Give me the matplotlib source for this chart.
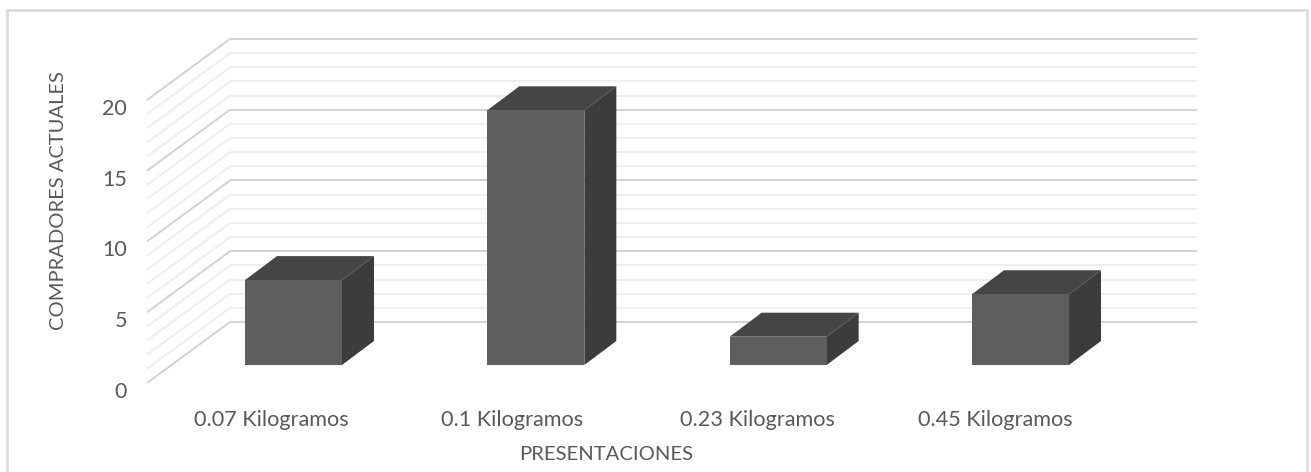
import matplotlib
matplotlib.use('Agg')
import matplotlib.pyplot as plt
from matplotlib.patches import Polygon, Rectangle

categorias = ['0.07 Kilogramos', '0.1 Kilogramos', '0.23 Kilogramos', '0.45 Kilogramos']
compradores = [6, 18, 2, 5]
ticks_y = [0, 5, 10, 15, 20]
paso_menor = 1

ANCHO, ALTO = 1311, 472
COL_PX = 242.33      # pixeles entre categorias
UNI_PX = 14.15       # pixeles por comprador
X0_PX, Y0_PX = 293.5, 365   # base de la primera barra

# Profundidad de las barras y de la pared, en unidades de datos
ancho_barra = 97 / COL_PX
dx_barra, dy_barra = 32 / COL_PX, 24 / UNI_PX
dx_pared, dy_pared = 83 / COL_PX, 61 / UNI_PX
# Esquina frontal del piso respecto al plano de las barras
x_piso = (147 - X0_PX) / COL_PX
y_piso = (365 - 383) / UNI_PX
x_fin = (1197 - X0_PX) / COL_PX
# Ajuste horizontal de cada etiqueta de categoria
ajuste_px = [-22, -24, -21, -25]

plt.rcParams['font.family'] = ['Lato', 'DejaVu Sans']

fig = plt.figure(figsize=(ANCHO / 100, ALTO / 100), dpi=100)
ax = fig.add_axes([0, 0, 1, 1])
ax.set_xlim(-X0_PX / COL_PX, (ANCHO - X0_PX) / COL_PX)
ax.set_ylim((Y0_PX - ALTO) / UNI_PX, Y0_PX / UNI_PX)
ax.axis('off')

# Marco del grafico, abierto por abajo
marco = Rectangle((7 / ANCHO, -0.1), 1300 / ANCHO, 1.1 - 10 / ALTO, transform=fig.transFigure,
                  fill=False, edgecolor='#d9d9d9', linewidth=1.8)
ax.add_patch(marco)

# Lineas de la pared lateral y del fondo
for v in range(ticks_y[0], ticks_y[-1] + paso_menor, paso_menor):
    mayor = v % 5 == 0
    color = '#d2d2d2' if mayor else '#eeeeee'
    x_a = x_piso + dx_pared
    y_a = y_piso + v + dy_pared
    ax.plot([x_piso, x_a], [y_piso + v, y_a], color=color, lw=1.4, zorder=2 if mayor else 1, solid_capstyle='butt')
    ax.plot([x_a, x_fin], [y_a, y_a], color=color, lw=1.4, zorder=2 if mayor else 1, solid_capstyle='butt')

# Barras con cara frontal, superior y lateral
for i, valor in enumerate(compradores):
    izq = i - ancho_barra / 2
    der = i + ancho_barra / 2
    ax.add_patch(Polygon([(izq, valor), (der, valor), (der + dx_barra, valor + dy_barra), (izq + dx_barra, valor + dy_barra)],
                         closed=True, facecolor='#454545', edgecolor='none', zorder=3))
    ax.add_patch(Polygon([(der, 0), (der + dx_barra, dy_barra), (der + dx_barra, valor + dy_barra), (der, valor)],
                         closed=True, facecolor='#3c3c3c', edgecolor='none', zorder=3))
    ax.add_patch(Rectangle((izq, 0), der - izq, valor, facecolor='#5e5e5e', edgecolor='none', zorder=4))
    ax.text(i + ajuste_px[i] / COL_PX, y_piso - 37 / UNI_PX, categorias[i], ha='center', va='center',
            fontsize=15.6, color='#595959')

for t in ticks_y:
    ax.text(x_piso - 20 / COL_PX, y_piso + t - 9 / UNI_PX, str(t), ha='right', va='center',
            fontsize=15.5, color='#595959')

ax.text(57 / ANCHO, 1 - 201 / ALTO, 'COMPRADORES ACTUALES', rotation=90, ha='center', va='center',
        fontsize=14.5, color='#595959', transform=fig.transFigure, position=(59 / ANCHO, 1 - 201 / ALTO))
ax.text(606 / ANCHO, 1 - 455 / ALTO, 'PRESENTACIONES', ha='center', va='center',
        fontsize=14.6, color='#595959', transform=fig.transFigure)

fig.savefig('out.png', dpi=100, facecolor='white')
